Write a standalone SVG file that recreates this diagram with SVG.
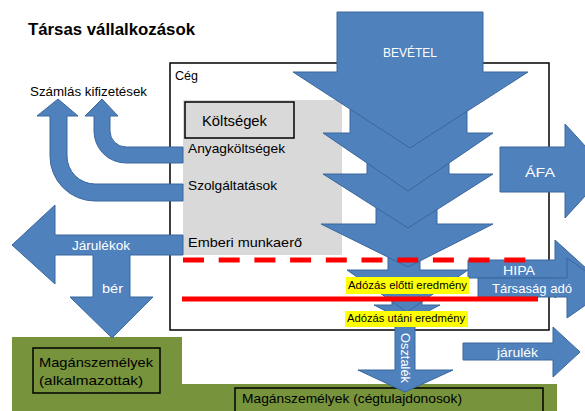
<svg xmlns="http://www.w3.org/2000/svg" width="585" height="411" viewBox="0 0 585 411">
<style>
text{font-family:"Liberation Sans",Arial,sans-serif;fill:#000;}
.w{fill:#fff;}
.blue{fill:#4F81BD;stroke:#3A679C;stroke-width:1;}
.box{fill:none;stroke:#000;stroke-width:1.5;}
.hl{fill:#FFFF00;}
</style>
<rect width="585" height="411" fill="#fff"/>
<text x="28" y="35" font-size="17" font-weight="bold" textLength="167" lengthAdjust="spacingAndGlyphs">Társas vállalkozások</text>
<g id="green-area"><polygon points="12,337 182,337 182,384 557,384 557,411 12,411" fill="#77933C"/></g>
<g id="ceg"><rect x="170" y="63" width="379" height="267" fill="#fff" stroke="#000" stroke-width="1.5"/>
<text x="175" y="80" font-size="12" textLength="23" lengthAdjust="spacingAndGlyphs">Cég</text></g>
<g id="koltsegek-area"><rect x="183" y="100" width="159" height="155" fill="#D9D9D9"/>
<rect x="185" y="102" width="109" height="36" fill="#D9D9D9" stroke="#000" stroke-width="1.5"/>
<text x="202" y="126" font-size="14" textLength="65" lengthAdjust="spacingAndGlyphs">Költségek</text></g>
<g id="alkalmazottak"><rect class="box" x="33" y="348" width="127" height="45"/>
<text x="39" y="367" font-size="13" textLength="114" lengthAdjust="spacingAndGlyphs">Magánszemélyek</text>
<text x="39" y="385" font-size="13" textLength="104" lengthAdjust="spacingAndGlyphs">(alkalmazottak)</text></g>
<g id="cegtulajdonosok"><rect class="box" x="235" y="388" width="308" height="30"/>
<text x="242" y="403" font-size="13" textLength="220" lengthAdjust="spacingAndGlyphs">Magánszemélyek (cégtulajdonosok)</text></g>
<g id="szamlas"><text x="30" y="96" font-size="12" textLength="117" lengthAdjust="spacingAndGlyphs">Számlás kifizetések</text></g>
<g id="connectors">
<path class="blue" d="M183,184 L95,184 A28,28 0 0 1 67,156 L67,116 L78,116 L58,99 L37,116 L50,116 L50,156 A45,45 0 0 0 95,201 L183,201 Z"/>
<path class="blue" d="M183,147 L126,147 A16,16 0 0 1 110,131 L110,116 L118,116 L102,99 L85,116 L94,116 L94,131 A32,32 0 0 0 126,163 L183,163 Z"/>
<path class="blue" d="M183,235 L55,235 L55,205 L12,245 L55,284 L55,255 L93,255 L93,297 L70,297 L112,338 L153,297 L130,297 L130,255 L183,255 Z"/>
<path class="blue" d="M395,322 L415,322 L415,370 L453,370 L405,392 L358,370 L395,370 Z"/>
<path class="blue" d="M392,298 L422,298 L422,305 L440,305 L407,322 L374,305 L392,305 Z"/>
<path class="blue" d="M388,255 L420,255 L420,270 L468,270 L407,312 L347,270 L388,270 Z"/>
<path class="blue" d="M376,200 L437,200 L437,224 L493,224 L408,267 L321,224 L376,224 Z"/>
<path class="blue" d="M367,150 L449,150 L449,174 L493,174 L408,228 L323,174 L367,174 Z"/>
<path class="blue" d="M350,100 L467,100 L467,133 L493,133 L408,191 L323,133 L350,133 Z"/>
<path class="blue" d="M337,12 L483,12 L483,72 L528,72 L410,148 L293,72 L337,72 Z"/>
<path class="blue" d="M500,147 L565,147 L565,124 L608,171 L565,218 L565,192 L500,192 Z"/>
<path class="blue" d="M468,260 L555,260 L555,240 L587,269 L555,298 L555,278 L468,278 Z"/>
<path class="blue" d="M478,278 L567,278 L567,258 L610,288 L567,318 L567,297 L478,297 Z"/>
<path class="blue" d="M463,343 L553,343 L553,327 L580,352 L553,377 L553,360 L463,360 Z"/>
<line x1="183" y1="260" x2="527" y2="260" stroke="#FF0000" stroke-width="5" stroke-dasharray="21 14.7"/>
<line x1="182" y1="299" x2="538" y2="299" stroke="#FF0000" stroke-width="5"/>
</g>
<g id="labels">
<text x="188" y="153" font-size="13" textLength="97" lengthAdjust="spacingAndGlyphs">Anyagköltségek</text>
<text x="188" y="190" font-size="13" textLength="89" lengthAdjust="spacingAndGlyphs">Szolgáltatások</text>
<text x="188" y="247" font-size="13" textLength="114" lengthAdjust="spacingAndGlyphs">Emberi munkaerő</text>
<text class="w" x="72" y="250" font-size="12" textLength="58" lengthAdjust="spacingAndGlyphs">Járulékok</text>
<text class="w" x="102" y="293" font-size="12" textLength="21" lengthAdjust="spacingAndGlyphs">bér</text>
<text class="w" x="383" y="57" font-size="12" textLength="54" lengthAdjust="spacingAndGlyphs">BEVÉTEL</text>
<text class="w" x="525" y="177" font-size="12" textLength="30" lengthAdjust="spacingAndGlyphs">ÁFA</text>
<text class="w" x="503" y="275" font-size="13" textLength="32" lengthAdjust="spacingAndGlyphs">HIPA</text>
<text class="w" x="492" y="293" font-size="13" textLength="80" lengthAdjust="spacingAndGlyphs">Társaság adó</text>
<text class="w" x="497" y="357" font-size="12" textLength="41" lengthAdjust="spacingAndGlyphs">járulék</text>
<text class="w" transform="translate(405,358) rotate(90)" x="0" y="4" font-size="12" text-anchor="middle" textLength="50" lengthAdjust="spacingAndGlyphs">Osztalék</text>
<rect class="hl" x="346" y="277" width="123" height="17"/>
<text x="348" y="289" font-size="11" textLength="119" lengthAdjust="spacingAndGlyphs">Adózás előtti eredmény</text>
<rect class="hl" x="345" y="311" width="123" height="16"/>
<text x="347" y="322" font-size="11" textLength="118" lengthAdjust="spacingAndGlyphs">Adózás utáni eredmény</text>
</g>
</svg>
